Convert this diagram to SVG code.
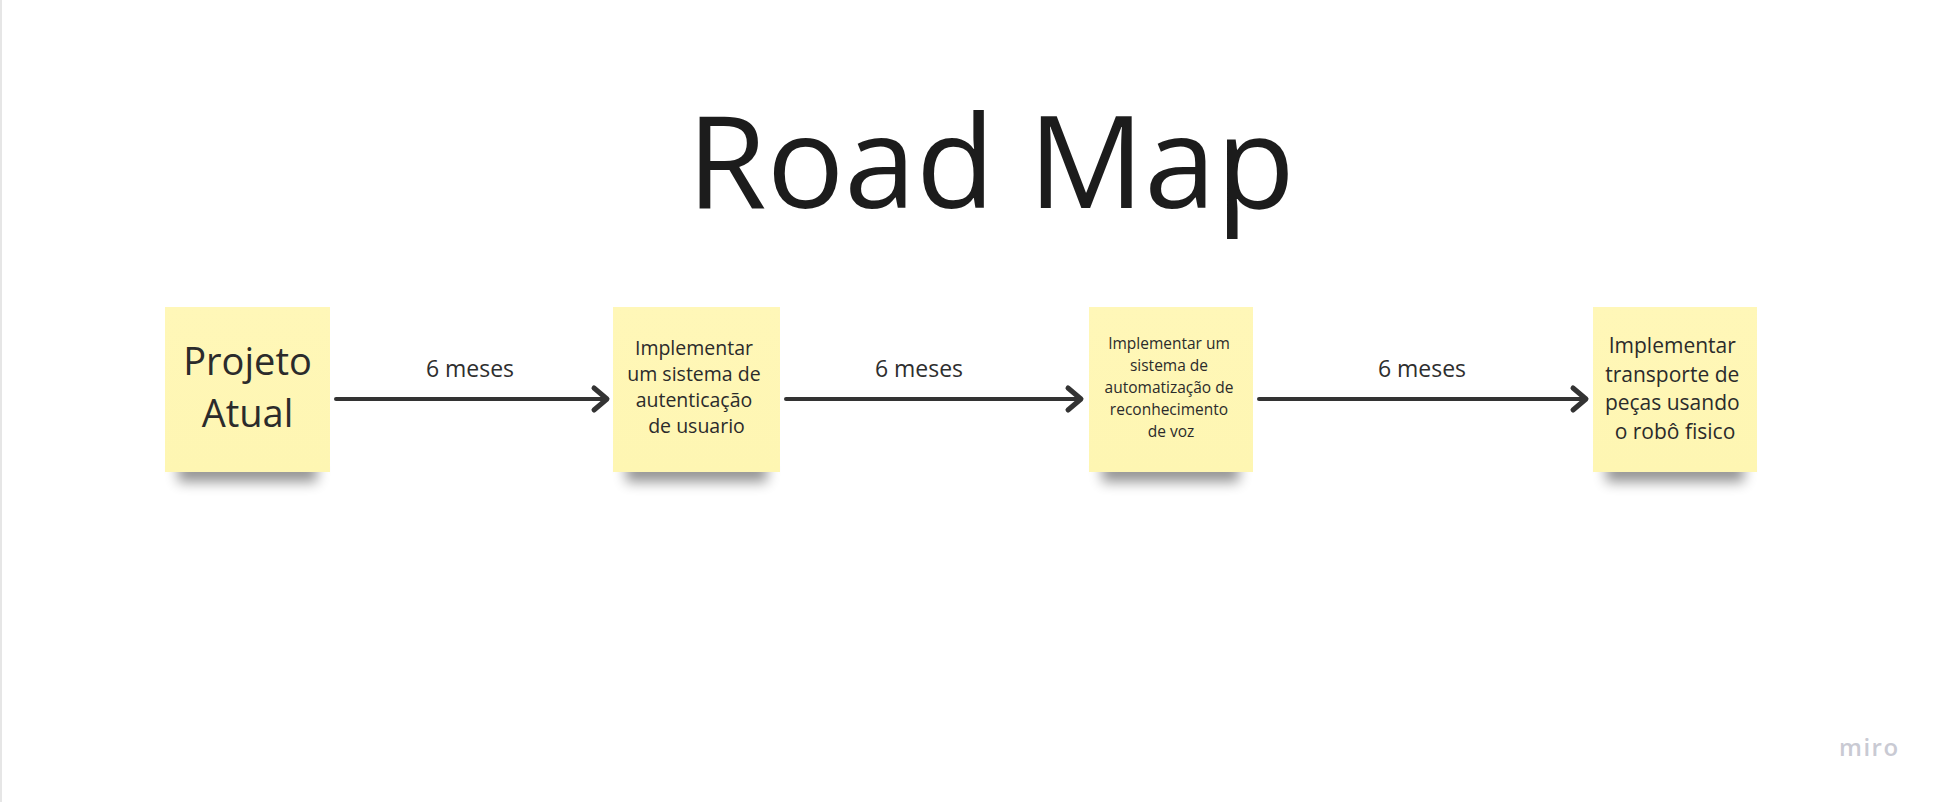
<svg xmlns="http://www.w3.org/2000/svg" width="1945" height="802" viewBox="0 0 1945 802">
  <defs>
    <style>
      .title { font-family: "Open Sans", "Liberation Sans", sans-serif; font-size: 129px; fill: #1c1c1c; text-anchor: middle; }
      .txt { font-family: "Open Sans", "Liberation Sans", sans-serif; fill: #2b2b2b; text-anchor: middle; }
      .lbl { font-family: "Open Sans", "Liberation Sans", sans-serif; font-size: 23px; fill: #2e2e2e; text-anchor: middle; }
      .note { fill: url(#paper); }
      .shadow { fill: #000000; opacity: 0.42; filter: url(#soft); }
      .conn { stroke: #333333; stroke-width: 4; fill: none; stroke-linecap: round; }
      .head { stroke: #333333; stroke-width: 5; fill: none; stroke-linecap: round; stroke-linejoin: round; }
      .brand { font-family: "Open Sans", "Liberation Sans", sans-serif; font-size: 24px; font-weight: 600; fill: #c9cad3; letter-spacing: 1.5px; }
    </style>
    <linearGradient id="paper" x1="0" y1="0" x2="0" y2="1">
      <stop offset="0" stop-color="#fff7b8"/>
      <stop offset="1" stop-color="#fef6b2"/>
    </linearGradient>
    <filter id="soft" x="-30%" y="-150%" width="160%" height="400%">
      <feGaussianBlur stdDeviation="6.5"/>
    </filter>
  </defs>

  <rect width="1945" height="802" fill="#ffffff"/>
  <line x1="1" y1="0" x2="1" y2="802" stroke="#e6e6e6" stroke-width="2"/>

  <text class="title" x="991" y="208">Road Map</text>

  <!-- sticky notes: a soft shadow strip under each paper square -->
  <g id="note-projeto-atual">
    <rect class="shadow" x="178" y="460" width="139" height="22"/>
    <rect class="note" x="165" y="307" width="165" height="165"/>
    <text class="txt" font-size="38" x="247.5" y="375">Projeto</text>
    <text class="txt" font-size="38" x="247.5" y="427">Atual</text>
  </g>

  <g id="note-autenticacao">
    <rect class="shadow" x="626" y="460" width="141" height="22"/>
    <rect class="note" x="613" y="307" width="167" height="165"/>
    <text class="txt" font-size="19.5">
      <tspan x="696.5" y="355">Implementar</tspan>
      <tspan x="696.5" y="381">um sistema de</tspan>
      <tspan x="696.5" y="407">autenticação</tspan>
      <tspan x="696.5" y="433">de usuario</tspan>
    </text>
  </g>

  <g id="note-voz">
    <rect class="shadow" x="1102" y="460" width="137" height="22"/>
    <rect class="note" x="1089" y="307" width="164" height="165"/>
    <text class="txt" font-size="15.5">
      <tspan x="1171" y="349">Implementar um</tspan>
      <tspan x="1171" y="371">sistema de</tspan>
      <tspan x="1171" y="393">automatização de</tspan>
      <tspan x="1171" y="415">reconhecimento</tspan>
      <tspan x="1171" y="437">de voz</tspan>
    </text>
  </g>

  <g id="note-robo">
    <rect class="shadow" x="1606" y="460" width="138" height="22"/>
    <rect class="note" x="1593" y="307" width="164" height="165"/>
    <text class="txt" font-size="21">
      <tspan x="1675" y="353">Implementar</tspan>
      <tspan x="1675" y="381.5">transporte de</tspan>
      <tspan x="1675" y="410">peças usando</tspan>
      <tspan x="1675" y="438.5">o robô fisico</tspan>
    </text>
  </g>

  <!-- connectors -->
  <g id="connectors">
    <line class="conn" x1="336" y1="399" x2="606" y2="399"/>
    <polyline class="head" points="594,388 607,399 594,410"/>
    <text class="lbl" x="470" y="377">6 meses</text>

    <line class="conn" x1="786" y1="399" x2="1080" y2="399"/>
    <polyline class="head" points="1068,388 1081,399 1068,410"/>
    <text class="lbl" x="919" y="377">6 meses</text>

    <line class="conn" x1="1259" y1="399" x2="1585" y2="399"/>
    <polyline class="head" points="1573,388 1586,399 1573,410"/>
    <text class="lbl" x="1422" y="377">6 meses</text>
  </g>

  <text class="brand" x="1839" y="756">miro</text>
</svg>
